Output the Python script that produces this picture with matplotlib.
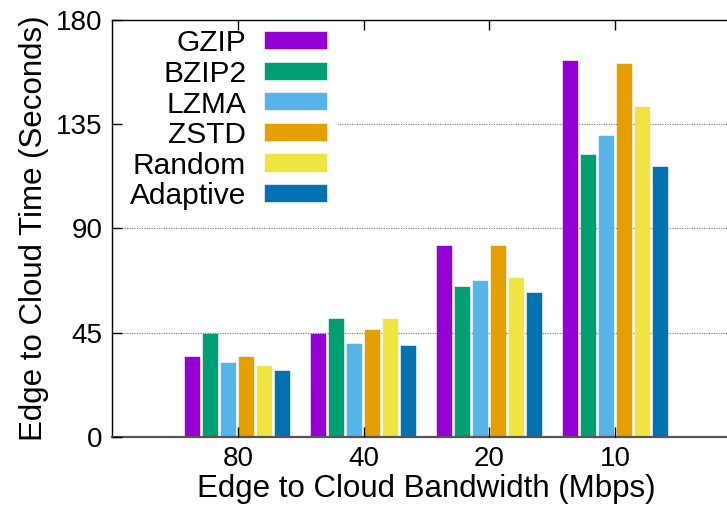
import numpy as np
import matplotlib
matplotlib.use("Agg")
import matplotlib.pyplot as plt

plt.rcParams['font.family'] = ['Liberation Sans', 'DejaVu Sans']

bandwidths = ["80", "40", "20", "10"]
methods = ["GZIP", "BZIP2", "LZMA", "ZSTD", "Random", "Adaptive"]
gzip = [34.6, 44.5, 82.5, 162.5]
bzip2 = [44.5, 50.8, 64.8, 121.8]
lzma = [31.8, 39.9, 67.1, 129.8]
zstd = [34.3, 46.0, 82.2, 161.0]
rand = [30.5, 50.7, 68.7, 142.4]
adaptive = [28.4, 39.0, 61.9, 116.6]
series = [gzip, bzip2, lzma, zstd, rand, adaptive]
colors = ["#9400D3", "#009E73", "#56B4E9", "#E69F00", "#F0E442", "#0072B2"]

fig = plt.figure(figsize=(7.27, 5.05), dpi=100)
ax = fig.add_axes([112 / 727, 68.3 / 505, 629 / 727, 416.7 / 505])

x = np.arange(len(bandwidths))
slot = 1 / 7
for i, (vals, c) in enumerate(zip(series, colors)):
    ax.bar(x + (i - 2.5) * slot, vals, width=slot * 0.84, color=c,
           label=methods[i], zorder=2, edgecolor=c, linewidth=0.3)

for yv in [45, 90, 135]:
    ax.axhline(yv, color="#777777", lw=0.8, ls=(0, (1, 1.2)), zorder=1)

ax.set_xlim(-1, 4)
ax.set_ylim(0, 180)
ax.set_yticks([0, 45, 90, 135, 180])
ax.set_xticks(x)
ax.set_xticklabels(bandwidths)
ax.tick_params(axis='both', direction='in', length=7, width=1, labelsize=20)
ax.tick_params(axis='x', top=True, pad=7)
ax.tick_params(axis='y', pad=7)

ax.set_xlabel("Edge to Cloud Bandwidth (Mbps)", fontsize=22.5, labelpad=1)
ax.set_ylabel("Edge to Cloud Time (Seconds)", fontsize=22.5, labelpad=5)

for s in ['left', 'top', 'right']:
    ax.spines[s].set_linewidth(1.0)
ax.spines['bottom'].set_color("#555555")
ax.spines['bottom'].set_linewidth(1.6)
for s in ax.spines.values():
    s.set_zorder(6)
ax.xaxis.set_zorder(6)
ax.yaxis.set_zorder(6)

leg = ax.legend(loc='upper right', bbox_to_anchor=(337 / 727, 1 - 19 / 505),
                bbox_transform=fig.transFigure, markerfirst=False,
                fontsize=21.5, handlelength=2.05, handleheight=0.5,
                handletextpad=0.64, labelspacing=0.085, borderpad=0.35,
                frameon=True, fancybox=False, framealpha=1,
                facecolor='white', edgecolor='white', borderaxespad=0)
leg.set_zorder(3)

fig.savefig("out.png", dpi=100)
